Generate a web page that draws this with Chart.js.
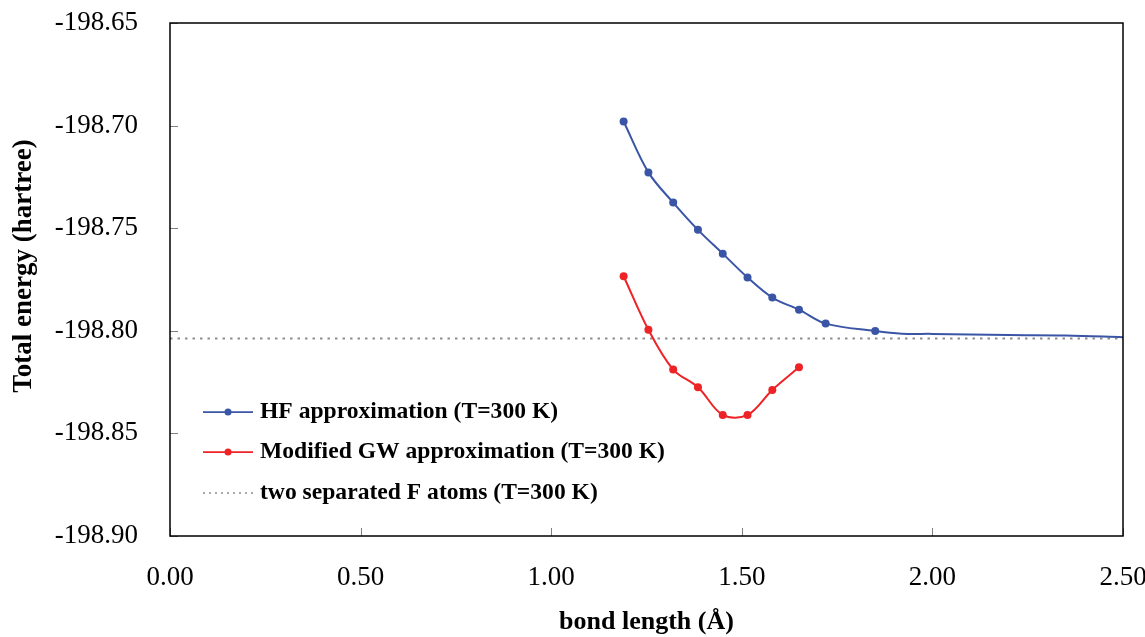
<!DOCTYPE html>
<html>
<head>
<meta charset="utf-8">
<script src="https://cdn.jsdelivr.net/npm/chart.js@4.4.1/dist/chart.umd.min.js"></script>
<style>
  html, body { margin: 0; padding: 0; background: #ffffff; }
  #wrap { width: 1145px; height: 637px; }
</style>
</head>
<body>
<div id="wrap"><canvas id="c" width="1145" height="637"></canvas></div>
<script>
// ---- data ----
const bondLengthHF = [1.19, 1.255, 1.32, 1.385, 1.45, 1.515, 1.58, 1.65, 1.72, 1.85, 1.92, 2.0, 2.2, 2.35, 2.5];
const energyHF     = [-198.6980, -198.7228, -198.7375, -198.7508, -198.7624, -198.7740, -198.7838, -198.7897, -198.7965, -198.8001,
                      -198.8014, -198.8015, -198.8021, -198.8023, -198.8031];
const hfMarkedPoints = 10; // the first points carry markers, the tail is a plain line

const bondLengthGW = [1.19, 1.255, 1.32, 1.385, 1.45, 1.515, 1.58, 1.65];
const energyGW     = [-198.7734, -198.7995, -198.8189, -198.8275, -198.8410, -198.8410, -198.8288, -198.8178];

const separatedX      = [0, 2.5];
const separatedEnergy = [-198.8038, -198.8038];

const seriesNames = [
  'HF approximation (T=300 K)',
  'Modified GW approximation (T=300 K)',
  'two separated F atoms (T=300 K)'
];
const xTitle = 'bond length (Å)';
const yTitle = 'Total energy (hartree)';

const zip = (xs, ys) => xs.map((x, i) => ({ x: x, y: ys[i] }));

const BLUE = '#3a55a6';
const RED = '#ee2326';
const GREY = '#8e8e8e';
const SERIF = '"Liberation Serif", "Times New Roman", serif';

// box + inside ticks + legend inside the plot + y title
const framePlugin = {
  id: 'frame',
  afterDraw(chart) {
    const { ctx, chartArea: a, scales } = chart;
    ctx.save();
    // inside tick marks
    ctx.strokeStyle = '#808080';
    ctx.lineWidth = 1;
    scales.x.ticks.forEach(t => {
      const px = Math.round(scales.x.getPixelForValue(t.value)) + 0.5;
      ctx.beginPath(); ctx.moveTo(px, a.bottom); ctx.lineTo(px, a.bottom - 8); ctx.stroke();
    });
    scales.y.ticks.forEach(t => {
      const py = Math.round(scales.y.getPixelForValue(t.value)) + 0.5;
      ctx.beginPath(); ctx.moveTo(a.left, py); ctx.lineTo(a.left + 8, py); ctx.stroke();
    });
    // frame
    ctx.strokeStyle = '#000000';
    ctx.lineWidth = 1.5;
    ctx.strokeRect(a.left, a.top, a.right - a.left, a.bottom - a.top);

    // y axis title
    ctx.save();
    ctx.translate(24, 266);
    ctx.rotate(-Math.PI / 2);
    ctx.fillStyle = '#000000';
    ctx.font = 'bold 27px ' + SERIF;
    ctx.textAlign = 'center';
    ctx.textBaseline = 'middle';
    ctx.fillText(yTitle, 0, 0);
    ctx.restore();

    // legend
    const rows = [412, 452, 493];
    const lx0 = 203, lx1 = 253, tx = 260;
    chart.data.datasets.forEach((ds, i) => {
      const y = rows[i];
      ctx.save();
      ctx.strokeStyle = ds.borderColor;
      ctx.lineWidth = i < 2 ? 1.75 : 1.5;
      if (ds.borderDash && ds.borderDash.length) ctx.setLineDash([2, 4]);
      ctx.beginPath(); ctx.moveTo(lx0, y); ctx.lineTo(lx1, y); ctx.stroke();
      ctx.restore();
      if (i < 2) {
        ctx.fillStyle = ds.pointBackgroundColor;
        ctx.beginPath(); ctx.arc((lx0 + lx1) / 2, y, 3.5, 0, Math.PI * 2); ctx.fill();
      }
      ctx.fillStyle = '#000000';
      ctx.font = 'bold 23.6px ' + SERIF;
      ctx.textBaseline = 'middle';
      ctx.textAlign = 'left';
      ctx.fillText(ds.label, tx, y);
    });
    ctx.restore();
  }
};

new Chart(document.getElementById('c'), {
  type: 'line',
  data: {
    datasets: [
      {
        label: seriesNames[0],
        data: zip(bondLengthHF, energyHF),
        borderColor: BLUE,
        backgroundColor: BLUE,
        pointBackgroundColor: BLUE,
        pointBorderColor: BLUE,
        borderWidth: 2,
        pointRadius: c => (c.dataIndex < hfMarkedPoints ? 4 : 0),
        pointBorderWidth: 0,
        tension: 0.35,
        fill: false
      },
      {
        label: seriesNames[1],
        data: zip(bondLengthGW, energyGW),
        borderColor: RED,
        backgroundColor: RED,
        pointBackgroundColor: RED,
        pointBorderColor: RED,
        borderWidth: 2,
        pointRadius: 4,
        pointBorderWidth: 0,
        tension: 0.35,
        fill: false
      },
      {
        label: seriesNames[2],
        data: zip(separatedX, separatedEnergy),
        borderColor: GREY,
        backgroundColor: GREY,
        borderWidth: 2,
        borderDash: [2.5, 5],
        pointRadius: 0,
        tension: 0,
        fill: false
      }
    ]
  },
  options: {
    responsive: false,
    animation: false,
    devicePixelRatio: 1,
    layout: { padding: { top: 23, right: 22, left: 0, bottom: 0 } },
    plugins: {
      legend: { display: false },
      tooltip: { enabled: false }
    },
    scales: {
      x: {
        type: 'linear',
        min: 0,
        max: 2.5,
        grid: { display: false, drawTicks: false },
        border: { display: false },
        ticks: {
          stepSize: 0.5,
          padding: 26,
          color: '#000000',
          font: { family: SERIF, size: 27 },
          callback: v => Number(v).toFixed(2)
        },
        title: {
          display: true,
          text: xTitle,
          color: '#000000',
          font: { family: SERIF, size: 26, weight: 'bold', lineHeight: 1.1 },
          padding: { top: 0, bottom: 0 }
        },
        afterFit(s) { s.height = 101; s.paddingLeft = 0; s.paddingRight = 0; }
      },
      y: {
        type: 'linear',
        min: -198.90,
        max: -198.65,
        grid: { display: false, drawTicks: false },
        border: { display: false },
        ticks: {
          stepSize: 0.05,
          padding: 32,
          color: '#000000',
          font: { family: SERIF, size: 27 },
          callback: v => Number(v).toFixed(2)
        },
        title: { display: false },
        afterFit(s) { s.width = 170; s.paddingTop = 0; s.paddingBottom = 0; }
      }
    }
  },
  plugins: [framePlugin]
});
</script>
</body>
</html>
